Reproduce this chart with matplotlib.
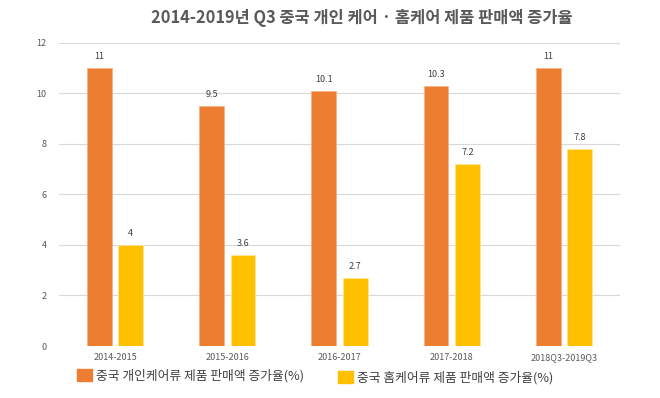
# -*- coding: utf-8 -*-
import matplotlib
matplotlib.use("Agg")
import matplotlib.pyplot as plt
import matplotlib.patches as mpatches
import numpy as np

plt.rcParams['font.family'] = ['Noto Sans CJK KR', 'DejaVu Sans']

title = "2014-2019년 Q3 중국 개인 케어 · 홈케어 제품 판매액 증가율"
periods = ["2014-2015", "2015-2016", "2016-2017", "2017-2018", "2018Q3-2019Q3"]
personal_care = [11, 9.5, 10.1, 10.3, 11]
home_care = [4, 3.6, 2.7, 7.2, 7.8]
personal_name = "중국 개인케어류 제품 판매액 증가율(%)"
home_name = "중국 홈케어류 제품 판매액 증가율(%)"

orange = "#ED7D31"
yellow = "#FFC000"
text_gray = "#595959"

fig = plt.figure(figsize=(6.6, 3.98), dpi=100)
ax = fig.add_axes([59 / 660, 1 - 346 / 398, 561 / 660, (346 - 42.7) / 398])

x = np.arange(len(periods))
w = 0.22
off = 0.14
b1 = ax.bar(x - off, personal_care, w, color=orange, edgecolor="#F4B183", linewidth=0.5, zorder=3)
b2 = ax.bar(x + off, home_care, w, color=yellow, edgecolor="#FFE699", linewidth=0.5, zorder=3)

for bars, vals in [(b1, personal_care), (b2, home_care)]:
    for b, v in zip(bars, vals):
        ax.annotate(str(v), (b.get_x() + b.get_width() / 2, v), xytext=(0, 5),
                    textcoords="offset points", ha="center", va="bottom",
                    fontsize=6.5, color="#404040")

ax.set_xlim(-0.5, len(periods) - 0.5)
ax.set_ylim(0, 12)
ax.set_yticks(range(0, 13, 2))
ax.set_xticks(x)
ax.set_xticklabels(periods)
ax.tick_params(axis="both", length=0, labelsize=6.5, colors=text_gray)
ax.tick_params(axis="y", pad=9)
ax.tick_params(axis="x", pad=5)
ax.grid(axis="y", color="#D9D9D9", linewidth=0.8, zorder=0)
for s in ax.spines.values():
    s.set_visible(False)

fig.text(362 / 660, 1 - 18 / 398, title, ha="center", va="center",
         fontsize=11.8, fontweight="bold", color=text_gray)

h1 = mpatches.Patch(color=orange)
h2 = mpatches.Patch(color=yellow)
leg1 = fig.legend([h1], [personal_name], loc="center left",
                  bbox_to_anchor=(77 / 660, 1 - 375.5 / 398), frameon=False,
                  fontsize=9.2, handlelength=1.17, handleheight=1.17,
                  handletextpad=0.35, borderpad=0, borderaxespad=0)
leg2 = fig.legend([h2], [home_name], loc="center left",
                  bbox_to_anchor=(338 / 660, 1 - 377.5 / 398), frameon=False,
                  fontsize=9.2, handlelength=1.17, handleheight=1.17,
                  handletextpad=0.35, borderpad=0, borderaxespad=0)
for leg in (leg1, leg2):
    for t in leg.get_texts():
        t.set_color("#404040")

fig.savefig("out.png", dpi=100)
